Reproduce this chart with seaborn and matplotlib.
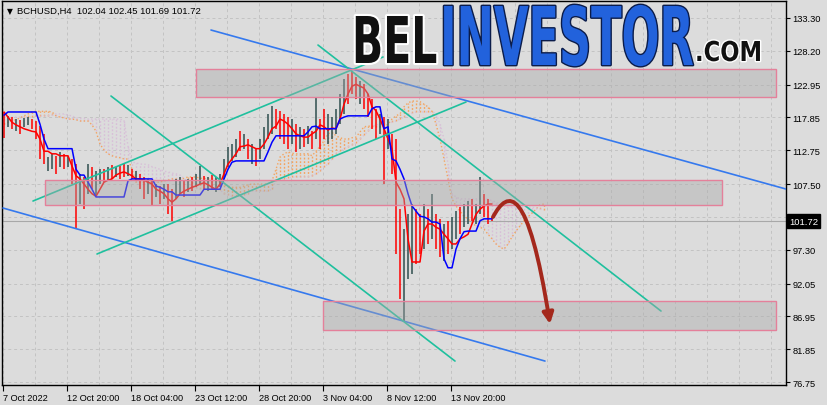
import numpy as np
import matplotlib
matplotlib.use("Agg")
import matplotlib.pyplot as plt
import matplotlib.patheffects as pe
from matplotlib.patches import Rectangle, FancyArrowPatch
from matplotlib.path import Path
from matplotlib.transforms import Affine2D, blended_transform_factory
import seaborn as sns

# ---- data (bar index = one 8h step, prices in USD) ----
highs = [118.7, 118.1, 117.9, 117.6, 117.5, 117.8, 117.9, 117.6, 117.3, 116.5,
         115.3, 111.7, 112.2, 111.9, 112.5, 112.2, 111.9, 111.4, 110.6, 109.1,
         108.6, 110.6, 110.2, 109.5, 109.8, 109.8, 110.2, 110.5, 110.2, 110.3,
         110.8, 110.5, 109.8, 109.5, 109.1, 108.6, 108.3, 108.0, 107.5, 107.2,
         107.5, 107.5, 106.7, 108.3, 108.6, 108.0, 108.3, 108.6, 109.1, 110.3,
         108.8, 108.6, 108.9, 108.6, 109.1, 111.4, 113.3, 113.7, 114.5, 115.7,
         115.3, 114.5, 113.7, 113.0, 114.5, 116.4, 118.4, 119.6, 119.2, 118.8,
         118.4, 117.9, 117.6, 116.8, 116.4, 116.1, 116.5, 115.7, 121.0, 117.6,
         119.2, 118.4, 117.9, 119.2, 121.5, 123.8, 124.6, 125.1, 124.1, 123.5,
         123.0, 121.5, 120.7, 119.2, 118.4, 117.9, 117.6, 115.3, 114.5, 103.6,
         100.5, 102.8, 104.4, 103.6, 102.8, 104.4, 103.6, 105.9, 102.8, 102.1,
         101.3, 101.8, 102.4, 103.3, 103.9, 104.4, 104.9, 105.2, 104.4, 108.6,
         106.0, 105.2, 102.45]
lows = [114.7, 116.4, 116.1, 115.7, 115.3, 116.4, 116.7, 116.1, 114.5, 111.4,
        110.6, 109.5, 109.8, 109.1, 110.2, 109.8, 110.2, 107.5, 100.5, 104.4,
        103.6, 105.9, 106.7, 105.6, 107.5, 107.8, 108.0, 108.3, 108.6, 108.3,
        108.6, 108.8, 108.3, 108.0, 106.7, 105.2, 106.0, 104.1, 105.5, 104.4,
        105.2, 102.8, 101.8, 105.2, 106.0, 105.5, 106.3, 106.4, 107.0, 107.5,
        106.7, 106.4, 106.7, 106.3, 107.0, 108.3, 110.2, 111.1, 111.7, 112.6,
        113.0, 111.4, 110.6, 110.3, 111.4, 113.0, 114.5, 115.3, 116.1, 114.5,
        113.7, 113.0, 113.7, 112.5, 113.0, 113.3, 113.7, 113.0, 114.5, 113.0,
        114.5, 113.7, 114.5, 115.3, 116.8, 118.4, 120.0, 121.5, 120.7, 119.9,
        119.2, 117.9, 116.1, 114.5, 115.3, 107.5, 113.0, 109.1, 96.6, 89.6,
        86.1, 92.8, 93.5, 95.1, 96.6, 97.4, 98.2, 99.0, 97.4, 96.2,
        95.5, 96.6, 97.4, 99.0, 99.7, 100.8, 101.3, 101.8, 101.3, 102.8,
        102.4, 101.3, 101.69]
bar_up = [0, 1, 0, 1, 0, 1, 1, 0, 0, 0,
          0, 1, 1, 0, 1, 0, 1, 0, 0, 1,
          0, 1, 0, 1, 1, 0, 1, 0, 1, 0,
          0, 1, 0, 1, 0, 0, 1, 0, 1, 0,
          1, 0, 0, 1, 1, 0, 1, 0, 1, 1,
          0, 1, 0, 1, 1, 1, 1, 1, 1, 0,
          1, 0, 1, 0, 1, 1, 1, 1, 0, 0,
          0, 0, 1, 0, 1, 0, 1, 0, 1, 0,
          0, 1, 1, 1, 1, 1, 0, 0, 0, 1,
          0, 0, 0, 0, 1, 0, 1, 0, 0, 0,
          1, 1, 1, 0, 0, 1, 0, 1, 0, 0,
          1, 0, 1, 1, 0, 1, 1, 0, 1, 1,
          0, 0, 0]
tenkan = [118.7, 117.9, 117.1, 116.7, 116.4, 116.1, 115.9, 115.7, 115.6, 114.5,
          112.6, 112.6, 112.2, 112.2, 111.9, 111.9, 111.9, 110.3, 108.8, 108.3,
          107.5, 106.7, 106.0, 105.6, 106.7, 107.8, 108.1, 108.3, 108.9, 109.2,
          109.4, 109.1, 108.8, 108.3, 108.3, 108.1, 107.8, 107.5, 106.7, 106.4,
          106.0, 105.2, 104.7, 105.2, 106.0, 106.4, 106.7, 107.0, 107.2, 107.5,
          107.7, 107.4, 107.0, 106.7, 107.5, 109.1, 110.6, 111.4, 112.2, 113.3,
          113.4, 113.6, 113.3, 113.0, 113.0, 113.7, 114.8, 116.1, 116.5, 117.6,
          117.3, 116.8, 116.1, 115.3, 115.0, 114.8, 114.8, 115.3, 115.7, 116.7,
          116.4, 115.9, 116.2, 116.1, 117.6, 119.9, 121.5, 122.7, 123.0, 122.7,
          122.4, 121.5, 119.5, 118.9, 117.6, 116.1, 114.5, 113.0, 107.8, 106.7,
          105.2, 99.0, 95.4, 95.4, 95.4, 100.2, 101.3, 101.3, 100.8, 100.5,
          99.7, 99.0, 98.2, 98.2, 99.0, 99.3, 99.7, 101.3, 102.8, 103.6,
          104.1, 104.4, 104.4]
kijun = [118.2, 118.7, 118.7, 118.7, 118.7, 118.7, 118.7, 118.7, 118.7, 116.8,
         114.5, 113.0, 113.0, 113.0, 113.0, 113.0, 113.0, 113.0, 109.8, 108.9,
         108.9, 107.8, 106.7, 105.5, 105.5, 105.5, 105.5, 105.5, 105.5, 105.5,
         105.5, 108.0, 108.3, 108.3, 108.3, 108.3, 108.3, 108.3, 107.2, 107.0,
         106.7, 106.3, 106.3, 105.8, 105.8, 105.8, 105.8, 105.8, 105.8, 105.8,
         106.7, 106.7, 106.7, 106.7, 106.7, 108.3, 109.8, 110.9, 111.1, 111.1,
         111.1, 111.1, 111.1, 111.1, 111.1, 111.1, 112.5, 114.0, 115.0, 115.0,
         115.0, 115.0, 115.0, 115.0, 115.0, 115.0, 115.6, 116.4, 116.5, 116.1,
         116.1, 116.1, 116.1, 116.1, 117.6, 117.9, 118.1, 118.1, 118.1, 118.1,
         118.1, 118.1, 119.2, 119.5, 119.5, 116.1, 116.4, 111.4, 111.1, 109.8,
         108.3, 106.0, 104.1, 103.3, 102.5, 102.4, 102.1, 101.6, 101.6, 101.3,
         95.9, 94.5, 94.5, 97.4, 99.0, 100.1, 100.2, 100.2, 100.2, 101.8,
         102.1, 102.1, 102.1]
span_a = [116.8, 117.1, 117.3, 117.5, 117.8, 118.1, 118.4, 118.7, 118.8, 118.8,
          118.8, 118.8, 118.7, 118.1, 117.9, 117.8, 117.6, 117.6, 117.5, 117.3,
          117.3, 117.3, 116.7, 115.7, 113.7, 112.8, 112.2, 111.9, 111.7, 111.6,
          111.4, 111.4, 109.8, 107.8, 107.8, 107.8, 107.8, 107.8, 107.8, 107.8,
          108.0, 108.1, 108.3, 108.3, 108.3, 108.4, 108.6, 108.6, 108.6, 108.4,
          108.4, 108.3, 108.3, 108.1, 107.8, 107.4, 107.2, 107.0, 107.0, 107.0,
          107.2, 107.4, 107.5, 107.5, 107.5, 107.5, 107.5, 108.0, 109.8, 111.7,
          112.2, 112.5, 112.3, 112.2, 112.2, 112.2, 112.2, 111.9, 112.6, 113.4,
          114.2, 115.3, 115.6, 115.0, 114.7, 114.5, 114.5, 114.7, 114.8, 115.6,
          116.4, 116.5, 116.5, 116.4, 116.4, 116.4, 116.8, 117.6, 118.1, 118.4,
          119.5, 120.1, 120.4, 120.4, 120.3, 119.9, 119.5, 118.8, 116.8, 114.5,
          111.4, 108.3, 105.2, 104.1, 103.3, 102.5, 102.1, 101.5, 101.0, 100.8,
          100.5, 99.7, 99.0, 98.2, 97.7, 97.4, 98.2, 99.3, 100.2, 101.0,
          101.8, 102.4, 103.0, 103.6, 104.3, 104.4]
span_b = [117.9, 117.9, 117.9, 117.9, 117.9, 117.9, 117.9, 117.9, 118.1, 118.1,
          118.1, 118.1, 118.2, 118.4, 118.4, 118.4, 118.2, 118.1, 117.8, 117.7,
          117.7, 117.6, 117.6, 117.6, 117.6, 117.6, 117.6, 117.6, 117.6, 117.6,
          117.4, 113.4, 110.9, 110.8, 110.6, 110.6, 110.5, 110.2, 110.0, 109.8,
          109.5, 109.4, 109.2, 109.1, 108.9, 108.4, 107.8, 107.0, 106.9, 106.7,
          106.7, 106.7, 106.7, 106.7, 106.6, 106.0, 105.8, 105.6, 105.6, 105.6,
          105.8, 106.0, 106.4, 106.4, 106.4, 106.4, 106.4, 106.7, 108.0, 108.3,
          108.3, 108.4, 108.6, 108.6, 108.6, 108.6, 108.6, 108.8, 109.1, 109.5,
          110.2, 110.6, 111.4, 112.2, 112.6, 113.0, 113.3, 113.6, 113.9, 114.5,
          115.1, 115.7, 116.4, 116.7, 116.8, 116.8, 117.0, 117.1, 117.3, 117.6,
          117.9, 118.2, 118.5, 118.7, 118.7, 118.7, 118.7, 118.7, 118.5, 116.8,
          114.5, 110.6, 106.0, 105.5, 105.2, 105.2, 105.2, 105.2, 105.2, 105.2,
          105.2, 105.2, 104.9, 104.7, 104.4, 104.1, 103.9, 103.9, 103.9, 103.9,
          103.9, 103.9, 103.9, 103.8, 103.6, 103.5]

date_labels = ["7 Oct 2022", "12 Oct 20:00", "18 Oct 04:00", "23 Oct 12:00",
               "28 Oct 20:00", "3 Nov 04:00", "8 Nov 12:00", "13 Nov 20:00"]
price_ticks = [133.30, 128.20, 122.95, 117.85, 112.75, 107.50,
               102.40, 97.30, 92.05, 86.95, 81.85, 76.75]
last_price = 101.72

# drawn objects: zones (x0, x1, low, high) and trend lines ((x0, p0), (x1, p1))
zones = [(48.0, 193.0, 121.03, 125.38),
         (10.25, 179.5, 104.25, 108.13),
         (79.75, 193.0, 84.82, 89.33)]
blue_lines = [((51.75, 131.43), (195.5, 106.73)),
              ((-0.25, 103.78), (135.25, 80.01))]
green_lines = [((7.25, 104.87), (94.75, 127.24)),
               ((23.25, 96.64), (115.5, 120.25)),
               ((26.75, 121.18), (112.75, 80.01)),
               ((78.5, 129.10), (164.25, 87.78))]
forecast = [(122.25, 102.39), (126.0, 106.74), (131.0, 107.52), (136.5, 85.76)]


class Stretch(pe.AbstractPathEffect):
    """draw text paths stretched vertically about the baseline (condensed logo look)"""
    def __init__(self, sy, y0, lw=0.0, ec=None):
        super().__init__()
        self.sy, self.y0, self.lw, self.ec = sy, y0, lw, ec

    def draw_path(self, renderer, gc, tpath, affine, rgbFace=None):
        t = affine + Affine2D().translate(0, -self.y0).scale(1, self.sy).translate(0, self.y0)
        gc0 = renderer.new_gc()
        gc0.copy_properties(gc)
        if self.lw:
            gc0.set_linewidth(self.lw)
            gc0.set_foreground(self.ec)
            gc0.set_joinstyle("round")
            renderer.draw_path(gc0, tpath, t, None)
        else:
            renderer.draw_path(gc0, tpath, t, rgbFace)
        gc0.restore()


sns.set_theme(style="white")
plt.rcParams["font.family"] = ["Liberation Sans", "DejaVu Sans"]

BG = "#dcdcdc"
fig = plt.figure(figsize=(8.28, 4.06), dpi=100, facecolor=BG)
ax = fig.add_axes([2 / 828, 20 / 406, 784 / 828, 384 / 406], facecolor=BG)

x = np.arange(len(highs))
xc = np.arange(len(span_a))
a = np.array(span_a)
b = np.array(span_b)

# ichimoku cloud hatch
cloud_cols = np.where(a >= b, "#f4a460", "#d8bfd8")
ax.vlines(xc, np.minimum(a, b), np.maximum(a, b), colors=cloud_cols,
          lw=1.0, linestyles=(0, (1.3, 1.3)), zorder=1)
sns.lineplot(x=xc, y=a, color="#f4a460", lw=1.0, linestyle=":", ax=ax, zorder=1.5)
sns.lineplot(x=xc, y=b, color="#d8bfd8", lw=1.0, linestyle=":", ax=ax, zorder=1.5)

# price bars
bar_cols = np.where(np.array(bar_up) == 1, "#2f4f4f", "#ff0000")
ax.vlines(x, lows, highs, colors=bar_cols, lw=1.1, zorder=2)

# tenkan / kijun
sns.lineplot(x=x, y=tenkan, color="#ff0000", lw=1.1, ax=ax, zorder=3)
sns.lineplot(x=x, y=kijun, color="#0000ff", lw=1.1, ax=ax, zorder=3)

ax.axhline(last_price, color="#a8a8a8", lw=0.8, zorder=1.2)

for (x0, y0), (x1, y1) in blue_lines:
    ax.plot([x0, x1], [y0, y1], color="#3579ee", lw=1.2, zorder=3.5)
for (x0, y0), (x1, y1) in green_lines:
    ax.plot([x0, x1], [y0, y1], color="#1fc09e", lw=1.2, zorder=3.5)

for x0, x1, lo, hi in zones:
    ax.add_patch(Rectangle((x0, lo), x1 - x0, hi - lo, facecolor="#a9a9a9",
                           alpha=0.42, edgecolor="none", zorder=4))
    ax.add_patch(Rectangle((x0, lo), x1 - x0, hi - lo, facecolor="none",
                           edgecolor="#e4809a", lw=1.0, zorder=4.1))

arrow_path = Path(forecast, [Path.MOVETO, Path.CURVE4, Path.CURVE4, Path.CURVE4])
ax.add_patch(FancyArrowPatch(path=arrow_path, arrowstyle="-|>", mutation_scale=16,
                             color="#a4281c", lw=2.8, zorder=6))

# axes cosmetics
ax.set_xlim(-0.5, 195.5)
ax.set_ylim(76.29, 135.94)
ax.set_xticks(np.arange(len(date_labels)) * 16 - 0.25, date_labels)
ax.set_xticks(np.arange(0, 25) * 8 - 0.25, minor=True)
for lab in ax.get_xticklabels():
    lab.set_ha("left")
ax.yaxis.tick_right()
ax.set_yticks(price_ticks, [f"{p:.2f}" for p in price_ticks])
ax.tick_params(axis="x", which="major", bottom=True, length=4, width=0.8,
               pad=1.5, labelsize=6.6, colors="black")
ax.tick_params(axis="x", which="minor", bottom=True, length=0)
ax.tick_params(axis="y", right=True, left=False, labelright=True, labelleft=False,
               length=3, width=0.8, pad=1.5, labelsize=6.7, colors="black")
ax.grid(True, which="both", axis="x", color="#c3c3c3", linestyle=(0, (3, 3)), lw=0.7)
ax.grid(True, which="major", axis="y", color="#c3c3c3", linestyle=(0, (3, 3)), lw=0.7)
ax.set_axisbelow(True)
for sp in ax.spines.values():
    sp.set_color("black")
    sp.set_linewidth(1.0)
ax.set_xlabel("")
ax.set_ylabel("")

# last price tag
tr = blended_transform_factory(ax.transAxes, ax.transData)
ax.text(1.0 + 3 / 784, last_price, "101.72", transform=tr, ha="left", va="center",
        fontsize=6.8, color="white", zorder=10, clip_on=False,
        bbox=dict(boxstyle="square,pad=0.25", facecolor="black", edgecolor="black"))

# header
fig.text(7 / 828, 1 - 14 / 406, "\u25bc", fontsize=5.5, color="black",
         family=["DejaVu Sans"], va="baseline")
fig.text(17 / 828, 1 - 14 / 406, "BCHUSD,H4  102.04 102.45 101.69 101.72",
         fontsize=6.8, color="black", va="baseline")

# watermark logo: (text, left px, right px, baseline px, cap height px, fill, outline, width)
logo = [("BEL", 352, 437, 64, 47, "#111111", "white", 3.0),
        ("INVESTOR", 440, 693, 66, 59, "#2262dc", "#0b1c4a", 2.0),
        (".COM", 695, 762, 62, 20, "#111111", "white", 2.0)]
logo_txt = []
for s, lx, rx, base, cap, fc, ec, lw in logo:
    t = fig.text(lx / 828, 1 - base / 406, s, fontsize=20, fontweight="bold",
                 family=["DejaVu Sans"], color=fc, ha="left", va="baseline", zorder=20)
    logo_txt.append((t, lx, rx, base, cap, ec, lw))
fig.canvas.draw()
for t, lx, rx, base, cap, ec, lw in logo_txt:
    w = t.get_window_extent().width
    fs = 20 * (rx - lx) / w
    t.set_fontsize(fs)
    sy = cap / (0.729 * fs * 100 / 72)
    y0 = 406 - base
    t.set_path_effects([Stretch(sy, y0, lw, ec), Stretch(sy, y0)])

fig.savefig("out.png", dpi=100, facecolor=BG)
